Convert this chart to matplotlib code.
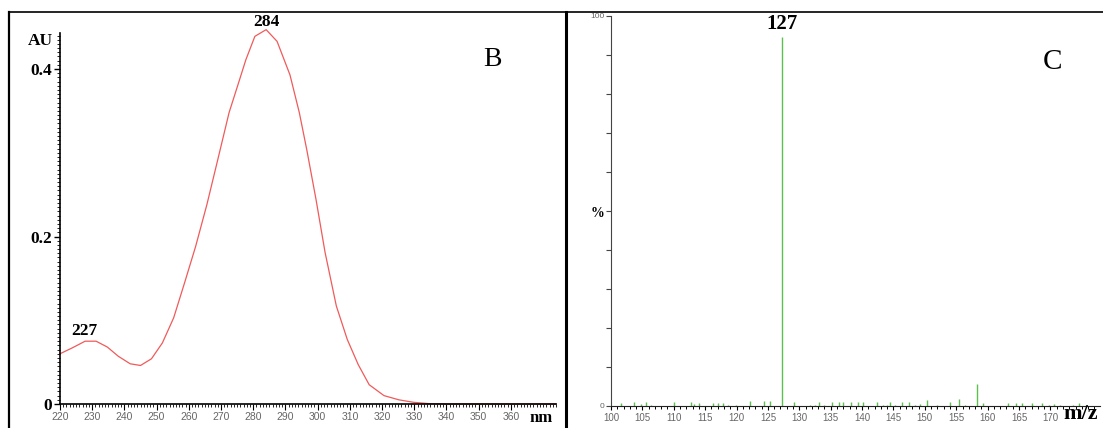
import matplotlib
matplotlib.use('Agg')
import matplotlib.pyplot as plt
from matplotlib.lines import Line2D
from matplotlib.ticker import MultipleLocator, FuncFormatter

# UV spectrum (panel B)
nm = [220, 223.8, 227.8, 231.2, 234.7, 238.1, 241.8, 245, 248.4, 251.8, 255.3,
      258.7, 262.1, 265.6, 269, 272.5, 275.4, 277.7, 280.5, 284, 287.4, 291.4,
      294.3, 296.6, 299.5, 302.3, 305.8, 309.2, 312.6, 316, 320.6, 325.2, 329.8,
      334.4, 340, 350, 360, 374]
au = [0.060, 0.067, 0.075, 0.075, 0.068, 0.057, 0.048, 0.046, 0.054, 0.073, 0.103,
      0.145, 0.188, 0.238, 0.292, 0.348, 0.383, 0.411, 0.439, 0.447, 0.433, 0.393,
      0.348, 0.304, 0.244, 0.181, 0.117, 0.077, 0.047, 0.023, 0.010, 0.005, 0.002,
      0.0005, 0, 0, 0, 0]

# mass spectrum (panel C)
mz = [101.6, 103.6, 104.7, 105.5, 106.4, 110.0, 112.8, 113.3, 114.0, 116.3, 117.1,
      117.9, 118.7, 119.9, 122.1, 124.3, 125.4, 127.3, 129.1, 131.7, 132.5, 133.2,
      133.9, 135.2, 136.4, 137.0, 138.3, 139.3, 140.2, 142.3, 143.3, 143.9, 144.5,
      145.2, 146.3, 147.4, 148.4, 149.3, 150.4, 151.9, 154.0, 155.4, 156.4, 158.3,
      159.3, 161.7, 163.3, 164.5, 165.5, 167.0, 168.7, 169.7, 170.6, 171.5, 173.6,
      174.5, 175.6]
rel = [0.7, 0.9, 0.4, 0.9, 0.2, 0.9, 0.9, 0.4, 0.6, 0.6, 0.6,
       0.6, 0.3, 0.1, 1.3, 1.3, 1.3, 94.5, 0.9, 0.2, 0.3, 0.9,
       0.1, 0.9, 0.9, 0.9, 0.9, 0.9, 0.9, 0.9, 0.3, 0.3, 0.9,
       0.2, 0.9, 0.9, 0.3, 0.4, 1.5, 0.2, 0.9, 1.8, 0.3, 5.5,
       0.6, 0.05, 0.6, 0.8, 0.8, 0.8, 0.8, 0.1, 0.4, 0.1, 0.3,
       0.8, 0.3]

W, H = 1103, 428
serif = ['Liberation Serif', 'DejaVu Serif']
narrow = ['Liberation Sans Narrow', 'Liberation Sans', 'DejaVu Sans']
grey = '#666666'


def px(x, y):
    return x / W, 1 - y / H


fig = plt.figure(figsize=(W / 100, H / 100), dpi=100)

# frame lines around the panels
fig.add_artist(Line2D([px(9, 0)[0], 1], [px(0, 12)[1]] * 2, color='black', lw=1.2))
fig.add_artist(Line2D([px(9, 0)[0]] * 2, [0, px(0, 12)[1]], color='black', lw=1.6))
fig.add_artist(Line2D([px(566, 0)[0]] * 2, [0, px(0, 12)[1]], color='black', lw=2.2))

# ---- panel B ----
ax1 = fig.add_axes([60 / W, (H - 404) / H, 496 / W, (404 - 33) / H])
ax1.plot(nm, au, color='#f05a5a', lw=0.9, clip_on=False)
ax1.set_xlim(220, 374)
ax1.set_ylim(0, 0.443)
for s in ['top', 'right']:
    ax1.spines[s].set_visible(False)
ax1.spines['left'].set_linewidth(1.2)
ax1.spines['bottom'].set_linewidth(1.2)
ax1.set_yticks([0, 0.2, 0.4])
ax1.set_yticklabels(['0', '0.2', '0.4'], fontfamily=serif, fontweight='bold', fontsize=12.5)
ax1.yaxis.set_minor_locator(MultipleLocator(0.005))
ax1.set_xticks(range(220, 370, 10))
ax1.xaxis.set_minor_locator(MultipleLocator(1))
ax1.tick_params(axis='y', which='major', length=4, width=1, pad=2)
ax1.tick_params(axis='y', which='minor', length=2.5, width=0.6)
ax1.tick_params(axis='x', which='major', length=4, width=0.8, pad=2,
                labelsize=7.5, labelcolor=grey)
ax1.tick_params(axis='x', which='minor', length=2.5, width=0.6)
for lab in ax1.get_xticklabels():
    lab.set_fontfamily(narrow)
ax1.text(284, 0.447, '284', ha='center', va='bottom', fontfamily=serif,
         fontweight='bold', fontsize=12.5, transform=ax1.transData)
ax1.text(227.5, 0.078, '227', ha='center', va='bottom', fontfamily=serif,
         fontweight='bold', fontsize=12.5)
fig.text(*px(40, 41), 'AU', ha='center', va='center', fontfamily=serif,
         fontweight='bold', fontsize=12.5)
fig.text(*px(492, 60), 'B', ha='center', va='center', fontfamily=serif, fontsize=20)
fig.text(*px(541, 418), 'nm', ha='center', va='center', fontfamily=serif,
         fontweight='bold', fontsize=12)

# ---- panel C ----
ax2 = fig.add_axes([611 / W, (H - 405.7) / H, 489 / W, 389.7 / H])
ax2.vlines(mz, 0, rel, color='#5cbf4f', lw=1)
ax2.set_xlim(100, 177.9)
ax2.set_ylim(0, 100)
for s in ['top', 'right']:
    ax2.spines[s].set_visible(False)
ax2.spines['left'].set_color('#444444')
ax2.spines['bottom'].set_color('#222222')
ax2.set_yticks(range(0, 101, 10))
ax2.yaxis.set_major_formatter(FuncFormatter(lambda v, p: str(int(v)) if v in (0, 100) else ''))
ax2.set_xticks(range(100, 175, 5))
ax2.xaxis.set_minor_locator(MultipleLocator(1))
ax2.tick_params(axis='y', length=3.5, width=0.8, color='#444444', pad=1,
                labelsize=6, labelcolor=grey)
ax2.tick_params(axis='x', which='major', length=3, width=0.8, pad=2,
                labelsize=7, labelcolor=grey)
ax2.tick_params(axis='x', which='minor', length=2.5, width=0.7)
for lab in ax2.get_xticklabels() + ax2.get_yticklabels():
    lab.set_fontfamily(narrow)
ax2.text(127.3, 95.5, '127', ha='center', va='bottom', fontfamily=serif,
         fontweight='bold', fontsize=15)
fig.text(*px(597, 213), '%', ha='center', va='center', fontfamily=serif,
         fontweight='bold', fontsize=10)
fig.text(*px(1052, 62), 'C', ha='center', va='center', fontfamily=serif, fontsize=21)
fig.text(*px(1081, 414), 'm/z', ha='center', va='center', fontfamily=serif,
         fontweight='bold', fontsize=16)

fig.savefig('out.png', dpi=100)
